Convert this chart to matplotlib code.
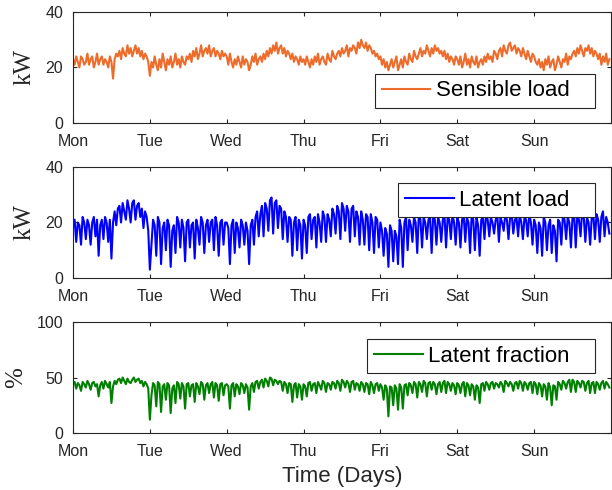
import numpy as np
import matplotlib
matplotlib.use('Agg')
import matplotlib.pyplot as plt

# half-hourly values, one row per day (Mon .. Sun)
sensible_load = [
    [23, 21, 24, 22, 20, 24, 23, 21, 22, 25, 21, 23, 24, 20, 22, 25, 21, 23, 24, 21, 23, 22, 20, 24,
     22, 16, 23, 25, 24, 26, 23, 27, 25, 24, 28, 25, 27, 24, 26, 28, 25, 27, 24, 26, 23, 25, 24, 22],
    [17, 22, 20, 24, 21, 19, 23, 20, 25, 22, 19, 23, 21, 24, 20, 22, 25, 21, 23, 20, 24, 22, 21, 24,
     23, 25, 22, 26, 24, 27, 23, 25, 28, 24, 26, 27, 25, 28, 24, 26, 27, 24, 26, 25, 23, 26, 24, 25],
    [24, 21, 25, 22, 20, 23, 21, 24, 22, 20, 24, 21, 23, 22, 19, 21, 24, 22, 25, 21, 23, 24, 22, 25,
     23, 26, 24, 27, 25, 28, 26, 29, 25, 27, 28, 25, 27, 24, 26, 25, 23, 25, 22, 24, 23, 21, 24, 22],
    [23, 21, 24, 22, 20, 23, 21, 24, 22, 25, 21, 23, 24, 22, 21, 25, 23, 22, 26, 24, 23, 25, 26, 24,
     27, 25, 26, 28, 24, 27, 26, 28, 27, 25, 29, 27, 30, 28, 27, 29, 26, 28, 27, 25, 26, 24, 25, 23],
    [24, 21, 23, 20, 22, 19, 21, 23, 20, 22, 24, 19, 21, 23, 20, 24, 22, 21, 25, 23, 22, 26, 24, 23,
     25, 27, 24, 26, 25, 28, 26, 24, 27, 25, 28, 26, 27, 25, 26, 24, 26, 23, 25, 22, 24, 23, 21, 24],
    [23, 21, 24, 20, 22, 25, 21, 23, 20, 24, 22, 21, 24, 20, 22, 23, 21, 24, 22, 25, 23, 24, 22, 26,
     25, 23, 26, 27, 24, 28, 26, 25, 28, 29, 26, 27, 28, 25, 27, 26, 24, 27, 25, 23, 26, 24, 22, 25],
    [24, 22, 21, 23, 20, 22, 19, 23, 21, 24, 20, 22, 23, 19, 21, 24, 22, 20, 23, 22, 25, 21, 24, 23,
     25, 26, 24, 27, 25, 28, 26, 24, 27, 26, 28, 25, 27, 24, 26, 25, 23, 25, 21, 24, 22, 25, 21, 23],
]
latent_load = [
    [18, 21, 13, 20, 19, 12, 22, 20, 14, 21, 19, 12, 20, 22, 15, 21, 8, 19, 21, 14, 22, 20, 13, 21,
     7, 20, 24, 19, 25, 26, 20, 27, 24, 21, 28, 25, 20, 27, 28, 21, 26, 27, 22, 25, 18, 24, 22, 17],
    [3, 12, 21, 19, 8, 22, 20, 5, 18, 20, 10, 21, 19, 4, 17, 19, 9, 22, 20, 11, 21, 18, 6, 20,
     21, 11, 19, 20, 7, 21, 18, 12, 22, 20, 9, 19, 21, 13, 20, 21, 10, 22, 19, 8, 20, 21, 12, 20],
    [20, 18, 5, 19, 21, 9, 20, 18, 11, 21, 19, 12, 20, 17, 5, 19, 21, 12, 22, 24, 15, 23, 26, 15,
     27, 25, 17, 28, 29, 16, 27, 28, 18, 26, 25, 14, 24, 22, 13, 22, 21, 8, 20, 22, 10, 21, 19, 7],
    [21, 19, 9, 22, 23, 14, 21, 22, 11, 23, 20, 13, 24, 22, 13, 23, 21, 15, 25, 23, 16, 26, 24, 14,
     27, 25, 17, 26, 24, 13, 25, 26, 15, 24, 22, 12, 24, 21, 12, 23, 22, 10, 23, 20, 9, 22, 21, 11],
    [20, 17, 8, 18, 16, 4, 19, 17, 6, 17, 15, 5, 21, 18, 4, 20, 22, 10, 21, 19, 13, 22, 20, 9,
     23, 21, 11, 22, 20, 14, 21, 22, 9, 23, 21, 12, 22, 20, 13, 21, 23, 11, 22, 21, 14, 23, 20, 12],
    [22, 20, 11, 21, 23, 13, 22, 20, 9, 23, 21, 10, 22, 19, 8, 21, 22, 14, 23, 21, 15, 22, 20, 16,
     21, 23, 13, 22, 20, 17, 23, 21, 14, 22, 23, 16, 21, 22, 15, 23, 20, 14, 22, 21, 15, 23, 20, 12],
    [21, 19, 9, 20, 18, 8, 22, 20, 10, 19, 21, 9, 19, 17, 6, 21, 20, 12, 23, 21, 14, 22, 20, 11,
     22, 23, 11, 23, 21, 15, 24, 22, 13, 22, 20, 12, 22, 23, 14, 23, 21, 13, 22, 24, 15, 22, 20, 16],
]
latent_fraction = [
    [44, 46, 40, 45, 43, 38, 46, 44, 41, 47, 44, 39, 45, 46, 42, 44, 33, 43, 46, 40, 47, 44, 41, 46,
     27, 42, 47, 44, 48, 49, 45, 50, 47, 44, 49, 46, 45, 48, 50, 46, 48, 49, 45, 47, 42, 46, 44, 40],
    [12, 34, 45, 43, 24, 46, 44, 19, 42, 44, 30, 45, 43, 18, 40, 43, 27, 46, 44, 31, 45, 42, 22, 44,
     45, 33, 43, 44, 28, 45, 42, 35, 46, 44, 30, 43, 45, 36, 44, 46, 32, 45, 43, 29, 44, 45, 34, 43],
    [44, 42, 22, 43, 45, 33, 44, 42, 35, 45, 43, 36, 44, 41, 21, 42, 45, 37, 46, 47, 40, 46, 48, 41,
     49, 47, 42, 50, 49, 43, 48, 47, 44, 47, 46, 38, 46, 44, 36, 45, 44, 28, 43, 45, 32, 44, 42, 30],
    [44, 42, 33, 45, 46, 38, 44, 45, 36, 46, 43, 39, 47, 45, 37, 45, 44, 39, 46, 45, 40, 47, 45, 38,
     48, 46, 41, 47, 45, 37, 46, 47, 39, 45, 44, 38, 46, 44, 37, 45, 44, 35, 46, 43, 36, 44, 45, 38],
    [44, 41, 30, 43, 40, 15, 42, 41, 25, 43, 40, 21, 44, 41, 22, 43, 44, 34, 45, 43, 36, 46, 44, 32,
     46, 44, 37, 47, 45, 33, 45, 46, 39, 46, 44, 35, 44, 46, 37, 45, 47, 36, 46, 44, 38, 45, 43, 35],
    [45, 43, 36, 44, 46, 33, 45, 43, 34, 44, 42, 30, 43, 41, 27, 44, 45, 38, 46, 44, 39, 45, 46, 40,
     45, 44, 41, 46, 44, 37, 47, 45, 42, 46, 44, 38, 45, 46, 40, 47, 45, 38, 46, 44, 39, 45, 46, 36],
    [46, 44, 35, 45, 43, 33, 44, 42, 30, 45, 41, 25, 43, 42, 30, 46, 44, 39, 47, 45, 40, 46, 48, 37,
     48, 46, 37, 47, 45, 41, 47, 46, 38, 45, 47, 36, 45, 46, 36, 46, 44, 39, 45, 47, 40, 46, 44, 41],
]
day_labels = ['Mon', 'Tue', 'Wed', 'Thu', 'Fri', 'Sat', 'Sun']

plt.rcParams['font.family'] = 'Liberation Sans'
axcol = '#262626'

sens = np.concatenate(sensible_load)
lat = np.concatenate(latent_load)
frac = np.concatenate(latent_fraction)
t = np.arange(len(sens)) / 48.0

fig = plt.figure(figsize=(6.12, 4.9), dpi=100)
ax1 = fig.add_axes([0.1193, 0.749, 0.879, 0.2265])
ax2 = fig.add_axes([0.1193, 0.4327, 0.879, 0.2265])
ax3 = fig.add_axes([0.1193, 0.1163, 0.879, 0.2265])

panels = [
    (ax1, sens, '#EE6C2B', 'Sensible load', 'kW', [0, 20, 40], (0, 40), 'lower right', (0.970, 0.135)),
    (ax2, lat, '#0000FF', 'Latent load', 'kW', [0, 20, 40], (0, 40), 'upper right', (0.970, 0.856)),
    (ax3, frac, '#008000', 'Latent fraction', '%', [0, 50, 100], (0, 100), 'upper right', (0.970, 0.847)),
]

for ax, y, c, lab, ylab, yt, ylim, loc, anchor in panels:
    # trailing spaces give the wider right margin of the original legend boxes
    ax.plot(t, y, color=c, lw=1.5, label=lab + '   ')
    ax.set_xlim(0, 7)
    ax.set_ylim(*ylim)
    ax.set_yticks(yt)
    ax.set_xticks(range(7))
    ax.set_xticklabels(day_labels)
    ax.tick_params(direction='in', length=3, width=0.8, colors=axcol,
                   labelsize=11.5, top=True, right=True)
    ax.tick_params(axis='x', pad=8)
    ax.tick_params(axis='y', pad=7)
    for s in ax.spines.values():
        s.set_color(axcol)
        s.set_linewidth(0.8)
    ax.set_ylabel(ylab, family='Liberation Serif', fontsize=18, color=axcol, labelpad=7)
    leg = ax.legend(loc=loc, bbox_to_anchor=anchor, fontsize=16, fancybox=False,
                    framealpha=1, edgecolor=axcol, borderpad=0.3,
                    handlelength=2.2, handletextpad=0.25, borderaxespad=0)
    leg.get_frame().set_linewidth(0.8)

ax3.set_xlabel('Time (Days)', fontsize=16, color=axcol, labelpad=5)

fig.savefig('out.png', dpi=100)
